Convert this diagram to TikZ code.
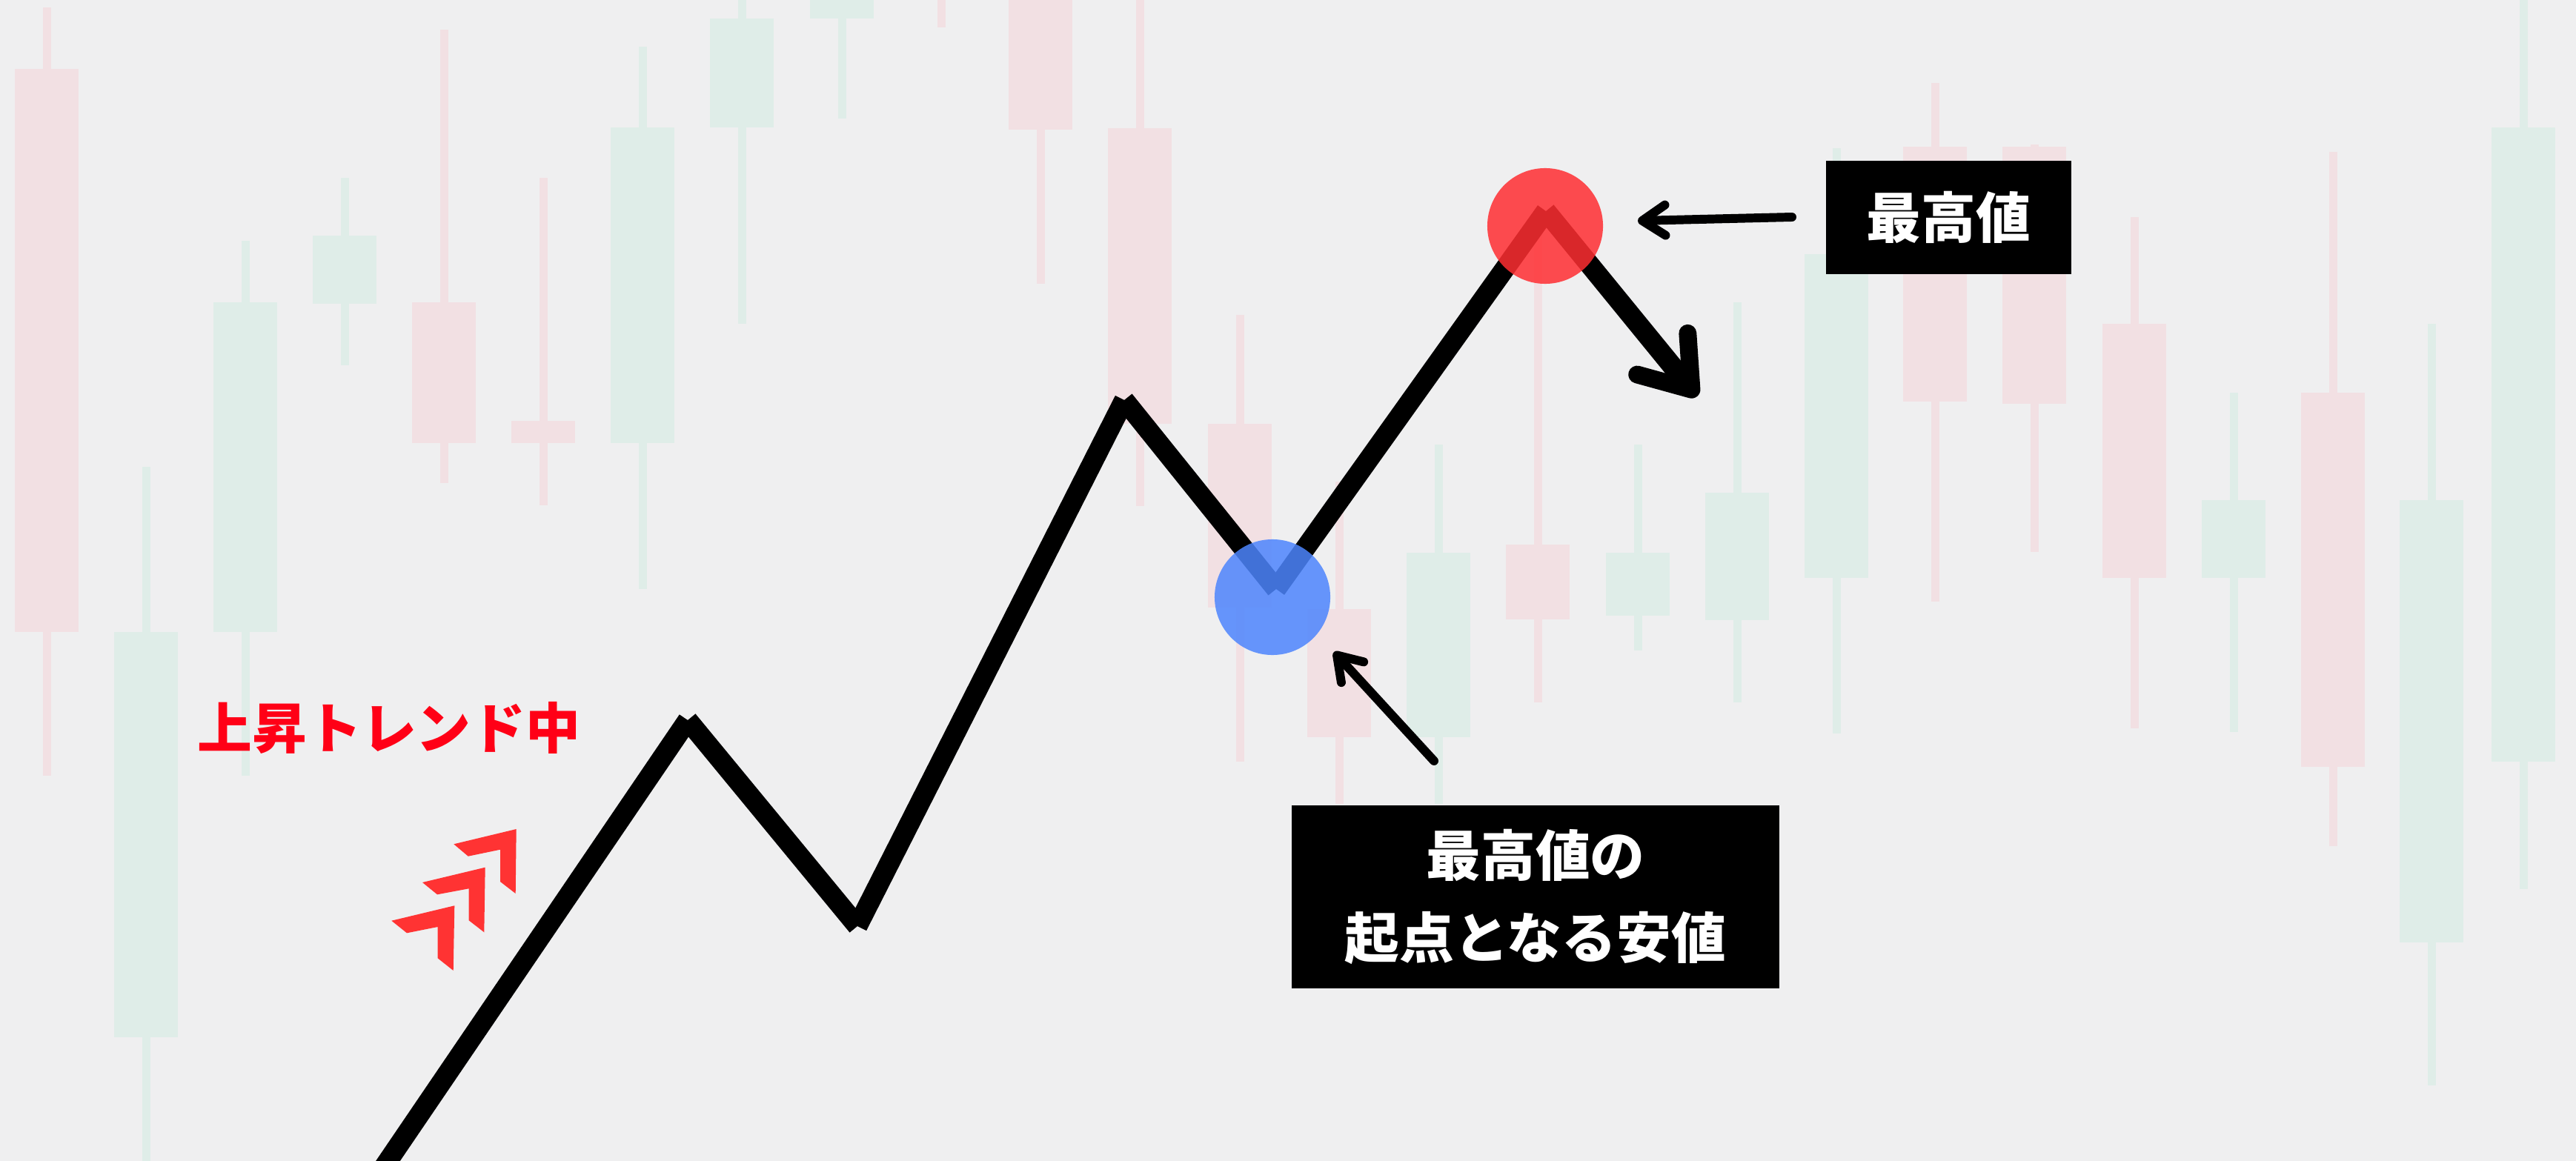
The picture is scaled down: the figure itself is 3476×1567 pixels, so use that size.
\documentclass[tikz,border=0pt]{standalone}
\usepackage{fontspec}
\usetikzlibrary{arrows.meta}
\newfontfamily\cjk{Noto Sans CJK JP}[UprightFont={* Black}]
\definecolor{bgpaper}{RGB}{239,239,240}
\definecolor{candleRed}{RGB}{242,224,227}
\definecolor{candleGreen}{RGB}{223,237,232}
\definecolor{chevRed}{RGB}{255,51,51}
\definecolor{trendRed}{RGB}{255,0,22}
\definecolor{peakRed}{RGB}{255,46,50}
\definecolor{lowBlue}{RGB}{77,133,253}
\newcommand\mycandle[6]{%
  \fill[#1] (#2-5.5,#5) rectangle (#2+5.5,#6);
  \fill[#1] (#2-43,#3) rectangle (#2+43,#4);}
\tikzset{
  trendline/.style={line width=7.7pt, black, line cap=butt},
  pointer/.style={line width=3.4pt, black, line cap=round,
    -{Straight Barb[length=0.31cm, width=0.41cm, round]}},
  labelbox/.style={fill=black, text=white, font=\cjk\fontsize{21}{31.5}\selectfont,
    align=center, inner sep=0pt},
  chevron/.style={fill=chevRed},
  marker/.style={circle, inner sep=0pt, minimum size=1.56cm, fill opacity=0.85},
}
\begin{document}
\begin{tikzpicture}[x=0.01cm, y=-0.01cm]
\useasboundingbox (0,0) rectangle (3476,1567);
\clip (0,0) rectangle (3476,1567);
\fill[bgpaper] (0,0) rectangle (3476,1567);
% background candles
\mycandle{candleRed}{63}{93}{853}{10}{1047}
\mycandle{candleGreen}{197}{853}{1400}{630}{1600}
\mycandle{candleGreen}{331}{408}{853}{325}{1047}
\mycandle{candleGreen}{465}{318}{410}{240}{493}
\mycandle{candleRed}{599}{408}{598}{40}{652}
\mycandle{candleRed}{733}{568}{598}{240}{682}
\mycandle{candleGreen}{867}{172}{598}{63}{795}
\mycandle{candleGreen}{1001}{25}{172}{-10}{437}
\mycandle{candleGreen}{1136}{-20}{25}{-10}{160}
\fill[candleRed] (1264.5,-10) rectangle (1275.5,37);
\mycandle{candleRed}{1404}{-20}{175}{-10}{383}
\mycandle{candleRed}{1538}{173}{572}{-10}{683}
\mycandle{candleRed}{1673}{572}{820}{425}{1028}
\mycandle{candleRed}{1807}{822}{995}{650}{1085}
\mycandle{candleGreen}{1941}{746}{995}{600}{1085}
\mycandle{candleRed}{2075}{735}{836}{280}{948}
\mycandle{candleGreen}{2210}{746}{831}{600}{878}
\mycandle{candleGreen}{2344}{665}{837}{408}{948}
\mycandle{candleGreen}{2478}{343}{780}{200}{990}
\mycandle{candleRed}{2611}{198}{542}{112}{812}
\mycandle{candleRed}{2745}{198}{545}{195}{745}
\mycandle{candleRed}{2880}{437}{780}{293}{983}
\mycandle{candleGreen}{3014}{675}{780}{530}{988}
\mycandle{candleRed}{3148}{530}{1035}{205}{1142}
\mycandle{candleGreen}{3281}{675}{1272}{437}{1465}
\mycandle{candleGreen}{3405}{172}{1028}{-10}{1200}
% red chevrons
\fill[chevron] (528.3,1242.7) -- (613.3,1222.3) -- (611.7,1310) -- (590.7,1293.3) -- (590.7,1251) -- (549,1259.3) -- cycle;
\fill[chevron] (570,1191) -- (654.7,1170.7) -- (653.3,1258.3) -- (632.7,1242.3) -- (632.7,1199.3) -- (590,1207.3) -- cycle;
\fill[chevron] (612.3,1139.3) -- (696.7,1119) -- (695.7,1206) -- (675,1190) -- (675,1146.7) -- (631.7,1155.7) -- cycle;
% trend label
\node[text=trendRed, font=\cjk\fontsize{21}{25}\selectfont, inner sep=0pt] (trend) at (525,982) {上昇トレンド中};
% trend line vertices
\coordinate (p0) at (501,1600);
\coordinate (p1) at (928,972);
\coordinate (p2) at (1157,1250);
\coordinate (p3) at (1517,540);
\coordinate (p4) at (1722,795);
\coordinate (p5) at (2086,285);
\coordinate (p6) at (2290,535);
\draw[trendline] (p0) -- (p1);
\draw[trendline] (p1) -- (p2);
\draw[trendline] (p2) -- (p3);
\draw[trendline] (p3) -- (p4);
\draw[trendline] (p4) -- (p5);
\draw[trendline, -{Straight Barb[length=0.62cm, width=0.88cm, round, line width=6.8pt]}] (p5) -- (p6);
% markers
\node[marker, fill=peakRed] (high) at (2085,305) {};
\node[marker, fill=lowBlue] (low) at (1717,806) {};
% label boxes
\node[labelbox, minimum width=3.31cm, minimum height=1.53cm] (box1) at (2629.5,293.5) {最高値};
\node[labelbox, minimum width=6.58cm, minimum height=2.47cm] (box2) at (2072,1210.5) {最高値の\\起点となる安値};
% pointers
\coordinate (tip1) at (2210,298);
\coordinate (start1) at (2418,293);
\coordinate (tip2) at (1800,880);
\coordinate (start2) at (1935,1027);
\draw[pointer] (start1) -- (tip1);
\draw[pointer] (start2) -- (tip2);
\end{tikzpicture}
\end{document}
